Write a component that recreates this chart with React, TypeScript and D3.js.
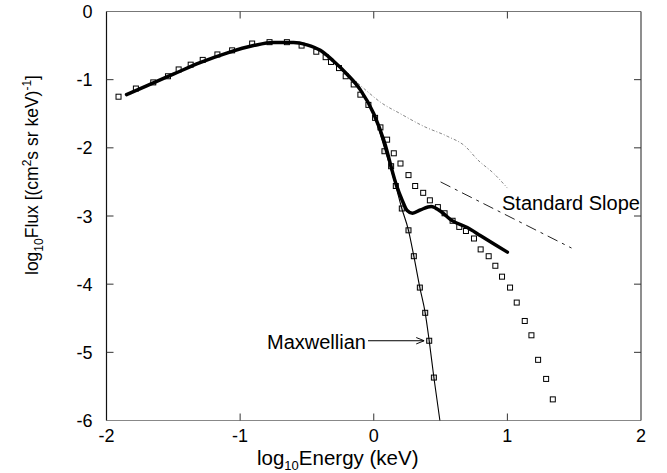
import React from 'react';
import * as d3 from 'd3';

// log10 energy (keV) / log10 flux pairs
const fitCurve: [number, number][] = [
  [-1.85, -1.22], [-1.7, -1.09], [-1.5, -0.92], [-1.3, -0.75], [-1.1, -0.61],
  [-0.9, -0.5], [-0.75, -0.455], [-0.6, -0.455], [-0.5, -0.49], [-0.4, -0.57],
  [-0.3, -0.73], [-0.2, -0.92], [-0.1, -1.15], [0, -1.5], [0.08, -1.92],
  [0.165, -2.52], [0.215, -2.78], [0.25, -2.92], [0.29, -2.96], [0.35, -2.91],
  [0.43, -2.86], [0.5, -2.93], [0.58, -3.06], [0.7, -3.17], [0.8, -3.29],
  [0.9, -3.41], [1.0, -3.53],
];

const maxwellCurve: [number, number][] = [
  [-1.85, -1.22], [-1.7, -1.09], [-1.5, -0.92], [-1.3, -0.75], [-1.1, -0.61],
  [-0.9, -0.5], [-0.75, -0.455], [-0.6, -0.455], [-0.5, -0.49], [-0.4, -0.57],
  [-0.3, -0.73], [-0.2, -0.92], [-0.1, -1.15], [0, -1.5], [0.08, -2.0],
  [0.165, -2.56], [0.21, -2.89], [0.26, -3.21], [0.3, -3.59], [0.345, -4.05],
  [0.385, -4.42], [0.415, -4.83], [0.45, -5.37], [0.495, -6.0],
];

const tailCurve: [number, number][] = [
  [-0.12, -1.05], [-0.05, -1.17], [0.05, -1.33], [0.2, -1.5], [0.38, -1.69],
  [0.55, -1.83], [0.68, -1.97], [0.78, -2.18], [0.9, -2.38], [1.0, -2.59],
];

const standardSlope: [number, number][] = [[0.5, -2.5], [1.48, -3.47]];

const dataPoints: [number, number][] = [
  [-1.91, -1.25], [-1.78, -1.13], [-1.65, -1.04], [-1.54, -0.95], [-1.46, -0.85],
  [-1.37, -0.78], [-1.28, -0.71], [-1.17, -0.63], [-1.06, -0.57], [-0.91, -0.47],
  [-0.78, -0.45], [-0.65, -0.45], [-0.54, -0.5], [-0.43, -0.59], [-0.36, -0.67],
  [-0.32, -0.74], [-0.26, -0.83], [-0.21, -0.95], [-0.15, -1.07], [-0.1, -1.22],
  [-0.04, -1.37], [0.01, -1.56], [0.05, -1.7], [0.1, -1.88], [0.15, -2.08],
  [0.2, -2.23], [0.26, -2.4], [0.31, -2.56], [0.37, -2.66], [0.42, -2.77],
  [0.48, -2.87], [0.53, -2.96], [0.59, -3.07], [0.64, -3.16], [0.69, -3.22],
  [0.75, -3.33], [0.8, -3.49], [0.86, -3.59], [0.91, -3.73], [0.96, -3.89],
  [1.02, -4.05], [1.07, -4.27], [1.13, -4.54], [1.18, -4.75], [1.23, -5.11],
  [1.29, -5.39], [1.34, -5.69],
];

const maxwellPoints: [number, number][] = [
  [0.08, -2.05], [0.13, -2.27], [0.165, -2.56], [0.21, -2.89], [0.26, -3.21],
  [0.3, -3.59], [0.345, -4.05], [0.385, -4.42], [0.415, -4.83], [0.45, -5.37],
];

const xTicks = [-2, -1, 0, 1, 2];
const yTicks = [0, -1, -2, -3, -4, -5, -6];

const W = 667;
const H = 473;
const FONT = 'Liberation Sans, Arial, Helvetica, sans-serif';

export default function App() {
  const x = d3.scaleLinear([-2, 2], [106.5, 641]);
  const y = d3.scaleLinear([-6, 0], [420.5, 11.5]);
  const line = d3.line<[number, number]>().x(d => x(d[0])).y(d => y(d[1]));
  const smooth = d3.line<[number, number]>().x(d => x(d[0])).y(d => y(d[1])).curve(d3.curveMonotoneX);

  const [x0, x1] = x.range();
  const [y0, y1] = y.range();
  const tick = 7;
  const sq = 5;

  const arrowY = y(-4.83);
  const arrowEnd = x(0.415) - 5;

  return (
    <svg width={W} height={H} style={{ position: 'absolute', left: 0, top: 0, background: '#fff' }} fontFamily={FONT}>
      <defs>
        <marker id="arr" viewBox="0 0 10 10" refX="10" refY="5" markerWidth="8" markerHeight="8" orient="auto">
          <path d="M0,1 L10,5 L0,9" fill="none" stroke="#000" strokeWidth="1.2" />
        </marker>
      </defs>

      {/* frame */}
      <line x1={x0} x2={x1} y1={y1} y2={y1} stroke="#777" strokeWidth={1} />
      <line x1={x0} x2={x1} y1={y0} y2={y0} stroke="#888" strokeWidth={1.2} />
      <line x1={x0} x2={x0} y1={y0} y2={y1} stroke="#111" strokeWidth={1.2} />
      <line x1={x1} x2={x1} y1={y0} y2={y1} stroke="#444" strokeWidth={1.2} />

      {xTicks.slice(1, -1).map(t => (
        <g key={'xt' + t}>
          <line x1={x(t)} x2={x(t)} y1={y0} y2={y0 - tick} stroke="#333" />
          <line x1={x(t)} x2={x(t)} y1={y1} y2={y1 + tick} stroke="#333" />
        </g>
      ))}
      {yTicks.slice(1, -1).map(t => (
        <g key={'yt' + t}>
          <line x1={x0} x2={x0 + tick} y1={y(t)} y2={y(t)} stroke="#333" />
          <line x1={x1} x2={x1 - tick} y1={y(t)} y2={y(t)} stroke="#333" />
        </g>
      ))}

      {xTicks.map(t => (
        <text key={'xl' + t} x={x(t)} y={y0 + 21} textAnchor="middle" fontSize={18}>{t}</text>
      ))}
      {yTicks.map(t => (
        <text key={'yl' + t} x={x0 - 14} y={y(t) + 6.5} textAnchor="end" fontSize={18}>{t}</text>
      ))}

      {/* axis titles */}
      <text x={257} y={465} fontSize={20.5}>
        log<tspan fontSize={13} dy={5}>10</tspan><tspan dy={-5}>Energy (keV)</tspan>
      </text>
      <text transform="translate(38,275) rotate(-90)" fontSize={17.5}>
        log<tspan fontSize={12} dy={5}>10</tspan><tspan dy={-5}>Flux [(cm</tspan>
        <tspan fontSize={12} dy={-7}>2</tspan><tspan dy={7}>s sr keV)</tspan>
        <tspan fontSize={12} dy={-7}>-1</tspan><tspan dy={7}>]</tspan>
      </text>

      {/* squares */}
      {dataPoints.map((d, i) => (
        <rect key={'d' + i} x={x(d[0]) - sq / 2} y={y(d[1]) - sq / 2} width={sq} height={sq}
          fill="#fff" stroke="#000" strokeWidth={1} />
      ))}
      {maxwellPoints.map((d, i) => (
        <rect key={'m' + i} x={x(d[0]) - sq / 2} y={y(d[1]) - sq / 2} width={sq} height={sq}
          fill="#ddd" stroke="#000" strokeWidth={1} />
      ))}

      {/* curves */}
      <path d={smooth(tailCurve) ?? ''} fill="none" stroke="#777" strokeWidth={0.9} strokeDasharray="3,2,1,2" />
      <path d={line(standardSlope) ?? ''} fill="none" stroke="#222" strokeWidth={1} strokeDasharray="11,5,3,5" />
      <path d={smooth(maxwellCurve) ?? ''} fill="none" stroke="#000" strokeWidth={1.1} />
      <path d={smooth(fitCurve) ?? ''} fill="none" stroke="#000" strokeWidth={3.5} strokeLinecap="round" />

      {/* annotations */}
      <text x={502} y={210} fontSize={20}>Standard Slope</text>
      <text x={267} y={349} fontSize={20}>Maxwellian</text>
      <line x1={368} x2={arrowEnd} y1={arrowY} y2={arrowY} stroke="#000" strokeWidth={1} markerEnd="url(#arr)" />
    </svg>
  );
}
